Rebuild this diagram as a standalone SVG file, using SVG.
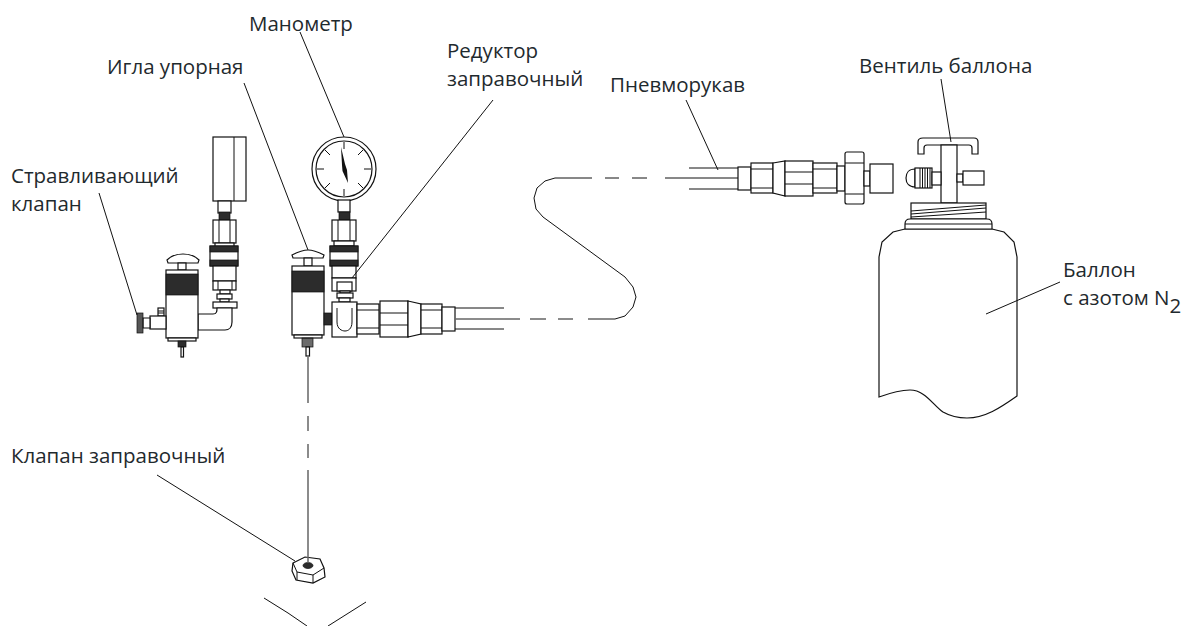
<svg xmlns="http://www.w3.org/2000/svg" width="1182" height="626" viewBox="0 0 1182 626">
<style>
text{font-family:"Open Sans","Noto Sans","Liberation Sans",sans-serif;font-size:20.500px;fill:#1f2a2e}
.o{fill:#fff;stroke:#111;stroke-width:1.200}
.l{fill:none;stroke:#111;stroke-width:1}
.d{fill:#2c2c2c;stroke:#111;stroke-width:.7}
.g{fill:none;stroke:#666;stroke-width:1.500}
</style>
<rect width="1182" height="626" fill="#fff"/>
<g id="gauge-side">
<rect class="o" x="213" y="137" width="33" height="64"/><path class="l" d="M234 137V201"/>
<rect class="o" x="218" y="201" width="13" height="12"/><rect class="d" x="219" y="212" width="11" height="8"/>
<rect class="o" x="213" y="220" width="23" height="23"/><path class="l" d="M219 220V243M230 220V243"/>
<rect class="o" x="215" y="243" width="19" height="4"/>
<rect class="o" x="210" y="246" width="28" height="20"/><rect class="d" x="210" y="246" width="28" height="6"/><rect class="d" x="210" y="260" width="28" height="6"/>
<rect class="o" x="213" y="266" width="23" height="15"/><rect class="o" x="213" y="281" width="23" height="9"/><path class="l" d="M218 281V290M232 281V290"/>
<rect class="o" x="220" y="290" width="10" height="4"/><rect class="o" x="217" y="294" width="15" height="5"/><rect class="o" x="220" y="299" width="9" height="3"/>
<rect class="o" x="213" y="302" width="24" height="6"/>
<path class="o" d="M198 314H213C217 314 217 311 217 308H232V322C232 327 229 330 225 330H198Z"/>
</g>
<g id="valve-side">
<path class="o" d="M167 260C171 256 178 254 183 254C188 254 195 256 199 260L198 263H168Z"/>
<rect class="o" x="178" y="263" width="8" height="7"/>
<rect class="o" x="166" y="270" width="32" height="68"/><rect class="d" x="166" y="274" width="32" height="21"/>
<rect class="o" x="168" y="338" width="28" height="3"/><rect class="d" x="178" y="341" width="8" height="6"/><rect class="o" x="181" y="347" width="2.500" height="10"/>
<rect class="o" x="158" y="308" width="6" height="8"/><path class="l" d="M158 311H164M158 313H164"/>
<rect class="o" x="150" y="316" width="16" height="13"/><path class="o" d="M143 318H150V328H143Z"/>
<rect class="d" x="137" y="313" width="6" height="20" fill-opacity=".8"/>
</g>
<g id="gauge">
<circle class="o" cx="344" cy="169" r="32"/><circle class="o" cx="344" cy="169" r="28"/>
<path class="l" d="M344 142V149M344 189V196M317 169H324M364 169H371M325 150L330 155M363 150L358 155M325 188L330 183M363 188L358 183"/>
<path d="M341 147L345 164L347 170L348 183L342.500 171L342 165Z" fill="#111"/>
<rect class="o" x="338" y="200" width="12" height="12"/><rect class="d" x="339" y="212" width="11" height="8"/>
<rect class="o" x="332" y="220" width="24" height="21"/><path class="l" d="M338 220V241M350 220V241"/>
<rect class="o" x="334" y="241" width="20" height="5"/>
</g>
<g id="reducer">
<rect class="o" x="330" y="246" width="28" height="20"/><rect class="d" x="330" y="246" width="28" height="6"/><rect class="d" x="330" y="260" width="28" height="6"/>
<rect class="o" x="332" y="266" width="24" height="12"/><rect class="o" x="332" y="278" width="24" height="13"/><rect class="o" x="337" y="282" width="15" height="9"/>
<rect class="o" x="340" y="291" width="10" height="2"/><rect class="o" x="337" y="293" width="16" height="5"/><rect class="o" x="339" y="298" width="11" height="4"/>
</g>
<g id="needle">
<path class="o" d="M292 255C298 252 304 250 308 250C312 250 318 252 324 255L323 258H293Z"/>
<rect class="o" x="304" y="258" width="8" height="8"/>
<rect class="o" x="292" y="266" width="32" height="69"/><rect class="d" x="292" y="271" width="32" height="21"/>
<rect class="o" x="294" y="335" width="28" height="3"/><rect class="d" x="302" y="338" width="11" height="9" fill-opacity=".7"/><rect class="o" x="306" y="347" width="3.500" height="9"/>
<rect class="d" x="324" y="313" width="8" height="12"/>
</g>
<g id="hose-fitting">
<rect class="o" x="332" y="302" width="25" height="35"/><path class="l" d="M337 308V322C337 329 342 331 345 331C348 331 352 329 352 322V308"/>
<rect class="o" x="357" y="304" width="22" height="30"/><path class="l" d="M357 310H379M357 328H379"/>
<rect class="o" x="380" y="301" width="28" height="36"/><path class="l" d="M380 313H408M380 325H408"/>
<path class="o" d="M408 301L421 304V334L408 337Z"/>
<rect class="o" x="421" y="304" width="21" height="30"/><path class="l" d="M421 310H442M421 328H442"/>
<rect class="o" x="442" y="307" width="13" height="24"/>
<path class="l" d="M455 308H504M455 329H504"/>
<path class="g" d="M455 319H505"/>
</g>
<g id="hose-fitting-right">
<path class="l" d="M689 168H738M689 189H738"/>
<rect class="o" x="738" y="167" width="13" height="23"/>
<rect class="o" x="751" y="163" width="22" height="30"/><path class="l" d="M751 169H773M751 188H773"/>
<path class="o" d="M773 163L785 161V196L773 193Z"/>
<rect class="o" x="785" y="161" width="28" height="35"/><path class="l" d="M785 172H813M785 184H813"/>
<rect class="o" x="813" y="163" width="24" height="30"/><path class="l" d="M813 169H837M813 188H837"/>
<rect class="o" x="837" y="166" width="8" height="25"/>
<rect class="o" x="845" y="152" width="19" height="52" rx="2"/><path class="l" d="M845 163H864M845 194H864"/>
<rect class="o" x="864" y="171" width="6" height="15"/><rect class="o" x="870" y="164" width="23" height="29"/>
</g>
<g id="cylinder-valve">
<path class="o" d="M918 154V142C918 139 920 138 923 138H974C977 138 978 139 978 142V154H972V148C972 146 971 145 969 145H927C925 145 924 146 924 148V154Z"/>
<rect class="o" x="941" y="145" width="16" height="58"/>
<path class="o" d="M915 169C909 169 906 173 906 178C906 183 909 187 915 187Z"/>
<rect class="o" x="915" y="168" width="17" height="20"/><path class="l" d="M920 168V188M922.500 168V188M925 168V188M927.500 168V188M930 168V188"/>
<rect class="o" x="932" y="172" width="9" height="13"/>
<rect class="o" x="957" y="174" width="6" height="8"/><rect class="o" x="963" y="171" width="21" height="14"/>
</g>
<g id="cylinder">
<path class="o" d="M879 397V257L882 242L893 232L905 229H992L1004 232L1014 242L1017 257V396C1000 408 985 418 967 418C958 418 950 416 943 412C933 405 925 390 910 390C900 390 890 393 879 397Z"/>
<rect class="o" x="911" y="203" width="75" height="16"/>
<path class="l" d="M911 211L986 205M911 214L986 208M911 217L986 212"/>
<path class="o" d="M905 229V224C905 221 907 219 910 219H987C990 219 992 221 992 224V229Z"/>
<path class="l" d="M905 224H992"/>
</g>
<g id="fill-valve">
<path class="o" d="M293 563L305 557L320 559L324 568L325 577L313 583L296 580L292 571Z"/>
<path class="l" d="M293 563L297 572L313 575L324 568M297 572V580M313 575V583"/>
<ellipse class="d" cx="308" cy="565.500" rx="5" ry="3"/>
<path class="l" d="M264 598L288 613L307 626M366 602L328 626"/>
</g>
<g id="connectors">
<path class="l" d="M300 32L344 137M244 83L308 250M493 100L352 278M99 193L137 315M686 100L718 170M941 79L951 142M1060 282L986 314M157 475L295 561"/>
<path class="g" d="M308 357V403M308 416V431M308 444V458M308 470V563"/>
<path class="g" d="M505 319H520M530 319H546M558 319H573M588 319H615"/>
<path class="l" d="M615 319L625 316L633 307L636 297L633 287L625 277L543 217L536 209L534 198L537 188L545 181L555 178H592M605 178H619M632 178H647M665 178H738"/>
</g>
<g id="labels">
<text x="249" y="31">Манометр</text>
<text x="107" y="74">Игла упорная</text>
<text x="447" y="58">Редуктор</text>
<text x="447" y="86">заправочный</text>
<text x="610" y="92">Пневморукав</text>
<text x="859" y="73">Вентиль баллона</text>
<text x="11" y="183">Стравливающий</text>
<text x="11" y="211">клапан</text>
<text x="1063" y="277">Баллон</text>
<text x="1063" y="305">с азотом N<tspan dy="8">2</tspan></text>
<text x="11" y="463">Клапан заправочный</text>
</g>
</svg>
